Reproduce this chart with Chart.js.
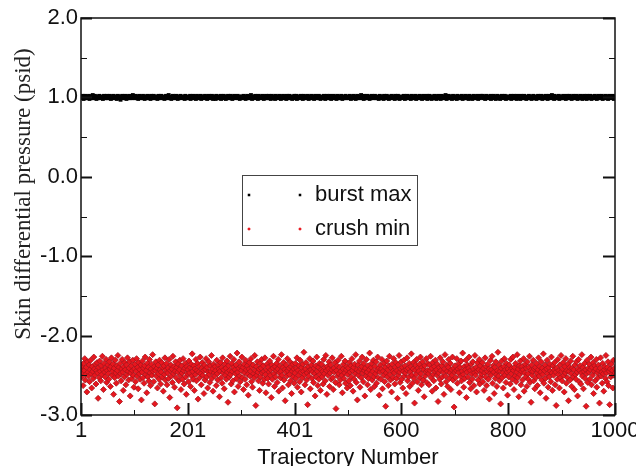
<!DOCTYPE html>
<html>
<head>
<meta charset="UTF-8">
<title>Skin differential pressure</title>
<script src="https://cdn.jsdelivr.net/npm/chart.js"></script>
<style>
body {margin:0; background:#fff;}
#wrap {width:636px; height:466px;}
</style>
</head>
<body>
<div id="wrap"><canvas id="myChart" width="636" height="466"></canvas></div>
<script>
// axis ticks as shown on the picture
const xTicks = [1, 101, 201, 301, 401, 500, 600, 700, 800, 900, 1000];
const xTickLabels = ['1', '', '201', '', '401', '', '600', '', '800', '', '1000'];
const yTicks = [-3, -2, -1, 0, 1, 2];
const yMinorTicks = [-2.5, -1.5, -0.5, 0.5, 1.5];

const seriesNames = ['burst max', 'crush min'];

// burst max, one value per trajectory (1..1000)
const burstMax = [
1.00,1.01,0.99,1.02,1.00,0.98,1.01,1.00,1.02,0.99,1.00,1.01,1.01,0.99,1.00,1.02,0.98,1.01,1.00,1.00,0.99,1.01,1.03,1.00,0.99,1.00,1.02,1.01,0.99,0.98,1.00,1.01,1.00,0.99,1.02,1.00,1.01,0.99,1.00,1.01,1.00,0.98,1.01,1.02,1.00,0.99,1.01,1.00,1.02,0.99,
1.01,0.99,1.00,1.00,1.02,0.99,0.98,1.01,1.00,1.01,0.99,1.02,1.00,1.00,0.99,1.01,1.01,0.98,1.00,1.02,1.00,0.99,1.01,1.00,0.97,1.01,1.00,1.02,0.99,1.00,1.01,0.99,1.00,1.02,1.00,0.98,1.01,1.00,0.99,1.01,1.02,1.00,0.99,1.00,1.01,0.99,1.00,1.03,1.00,1.01,
0.99,1.00,1.02,1.00,0.99,1.01,1.00,0.98,1.01,1.02,1.00,0.99,1.00,1.01,1.00,0.99,1.02,1.00,1.01,0.98,1.00,1.01,0.99,1.00,1.02,1.01,0.99,1.00,1.00,1.01,0.98,1.02,1.00,0.99,1.01,1.00,1.02,0.99,1.00,1.01,0.99,1.00,1.01,0.98,1.00,1.02,1.01,0.99,1.00,1.00,
1.02,1.00,0.99,1.01,1.00,1.00,0.98,1.01,0.99,1.02,1.00,1.01,0.99,1.00,1.03,1.00,0.99,1.01,1.00,0.98,1.01,1.00,1.02,0.99,1.00,1.01,1.00,0.99,1.02,1.00,1.01,0.98,1.00,1.01,0.99,1.00,1.02,1.00,0.99,1.01,1.00,1.01,0.99,1.00,0.98,1.02,1.00,1.01,0.99,1.00,
1.00,0.99,1.01,1.00,1.02,0.98,1.00,1.01,0.99,1.00,1.02,1.00,0.99,1.01,1.00,0.98,1.01,1.02,1.00,0.99,1.00,1.01,1.00,0.99,1.02,0.98,1.01,1.00,1.00,1.01,0.99,1.00,1.02,1.01,0.99,1.00,0.98,1.01,1.00,1.02,0.99,1.00,1.01,1.00,0.99,1.02,1.00,0.98,1.01,1.00,
1.01,1.00,0.98,1.02,1.00,0.99,1.01,1.00,1.01,0.99,1.00,1.02,0.98,1.00,1.01,0.99,1.00,1.02,1.00,1.01,0.99,0.98,1.01,1.00,1.00,1.02,0.99,1.01,1.00,0.99,1.02,1.00,1.01,0.98,1.00,0.99,1.01,1.02,1.00,0.99,1.00,1.01,1.00,1.02,0.99,1.00,1.01,0.98,1.00,1.01,
0.99,1.01,1.00,1.00,1.02,0.99,1.00,1.01,0.98,1.00,1.01,1.02,1.00,0.99,1.00,1.01,0.99,1.00,1.03,1.00,0.98,1.01,1.00,0.99,1.01,1.00,1.02,0.99,1.00,1.01,1.00,0.98,1.02,1.00,0.99,1.01,1.00,1.00,0.99,1.02,1.01,1.00,0.98,1.00,1.01,0.99,1.02,1.00,1.00,0.99,
1.00,1.02,0.99,1.00,1.01,0.98,1.00,1.02,1.00,0.99,1.01,1.00,1.00,0.98,1.02,1.01,0.99,1.00,1.01,1.00,0.99,1.02,1.00,1.01,0.98,1.00,0.99,1.01,1.02,1.00,1.00,0.99,1.01,1.00,0.98,1.02,1.00,0.99,1.01,1.00,1.02,0.99,1.00,1.01,1.00,0.98,1.00,1.01,0.99,1.02,
1.01,0.99,1.00,1.02,0.98,1.00,1.01,1.00,0.99,1.01,1.00,1.02,0.99,1.00,1.01,0.98,1.00,1.02,1.01,0.99,1.00,1.00,1.01,0.99,1.02,1.00,0.98,1.01,1.00,0.99,1.01,1.02,1.00,0.99,1.00,1.01,0.98,1.00,1.02,1.00,0.99,1.01,1.00,1.00,0.99,1.02,1.01,1.00,0.98,1.00,
1.00,1.01,0.99,1.00,1.02,1.00,0.99,0.98,1.01,1.00,1.02,0.99,1.01,1.00,1.00,0.99,1.02,1.00,0.98,1.01,1.00,1.01,0.99,1.02,1.00,1.00,0.99,1.01,0.98,1.00,1.02,1.01,0.99,1.00,1.01,1.00,0.99,1.02,1.00,0.98,1.01,1.00,1.00,0.99,1.01,1.02,1.00,0.99,1.01,1.00,
0.99,1.00,1.01,1.02,1.00,0.98,1.00,1.01,0.99,1.00,1.02,1.01,1.00,0.99,0.98,1.01,1.00,1.02,0.99,1.00,1.01,1.00,0.99,1.01,1.03,1.00,0.99,1.00,1.01,0.98,1.02,1.00,0.99,1.01,1.00,1.00,1.02,0.99,1.01,1.00,0.98,1.00,1.01,0.99,1.02,1.00,1.00,1.01,0.99,1.00,
1.02,0.99,1.00,1.01,1.00,0.99,1.01,0.98,1.00,1.02,1.00,1.01,0.99,1.00,1.01,1.00,0.98,1.02,1.00,0.99,1.01,1.00,1.02,0.99,1.00,1.01,0.98,1.00,1.01,1.00,0.99,1.02,1.01,1.00,0.99,1.00,1.01,0.98,1.02,1.00,0.99,1.01,1.00,1.02,1.00,0.99,0.98,1.01,1.00,1.01,
1.00,1.00,0.99,1.01,1.02,1.00,0.98,1.01,1.00,0.99,1.02,1.00,1.01,0.99,1.00,1.01,1.00,0.98,1.02,1.01,0.99,1.00,1.00,1.01,0.99,1.02,1.00,0.98,1.01,1.00,1.01,0.99,1.00,1.02,1.00,0.99,1.01,1.00,0.98,1.01,1.02,1.00,0.99,1.00,1.01,1.00,0.99,1.02,0.98,1.01,
1.01,1.00,1.02,0.99,1.00,1.01,0.98,1.00,1.01,1.00,0.99,1.02,1.00,1.01,0.99,0.98,1.00,1.01,1.02,1.00,0.99,1.01,1.00,0.98,1.00,1.02,1.01,0.99,1.00,1.00,1.01,0.99,1.03,1.00,0.98,1.01,1.00,0.99,1.02,1.00,1.01,1.00,0.99,1.01,0.98,1.00,1.02,1.00,0.99,1.01,
0.99,1.01,1.00,0.98,1.02,1.00,1.01,0.99,1.00,1.01,1.00,0.99,1.02,1.00,0.98,1.01,1.00,1.01,0.99,1.02,1.00,1.00,0.99,1.01,1.00,0.98,1.02,1.01,1.00,0.99,1.00,1.01,0.98,1.00,1.02,0.99,1.01,1.00,1.00,0.99,1.01,1.02,1.00,0.98,1.00,1.01,0.99,1.00,1.02,1.00,
1.00,1.02,1.00,0.99,1.01,1.00,0.98,1.01,1.02,0.99,1.00,1.01,1.00,0.99,1.01,1.00,1.02,0.98,1.00,1.01,0.99,1.00,1.02,1.00,1.01,0.99,0.98,1.01,1.00,1.02,1.00,0.99,1.01,1.00,0.98,1.00,1.01,1.02,0.99,1.00,1.00,1.01,0.99,1.02,1.00,0.98,1.01,1.00,0.99,1.01,
1.01,0.99,1.00,1.00,1.02,0.98,1.01,1.00,0.99,1.01,1.02,1.00,0.99,1.00,1.01,0.98,1.02,1.00,1.00,0.99,1.01,1.00,0.98,1.02,1.01,1.00,0.99,1.00,1.01,1.02,0.99,1.00,1.01,0.98,1.00,1.01,1.00,0.99,1.02,1.00,1.01,0.99,1.00,0.98,1.01,1.00,1.02,0.99,1.00,1.01,
1.00,1.01,0.98,1.00,1.01,1.02,0.99,1.00,1.00,1.01,0.99,1.02,1.00,0.98,1.01,1.00,0.99,1.01,1.00,1.02,0.99,1.00,1.01,0.98,1.00,1.02,1.00,0.99,1.01,1.00,1.00,1.03,0.99,1.01,1.00,0.98,1.02,1.00,0.99,1.01,1.00,1.01,0.99,1.00,1.02,0.98,1.00,1.01,1.00,0.99,
0.99,1.00,1.02,1.01,0.99,1.00,1.01,0.98,1.00,1.02,1.00,0.99,1.01,1.00,1.02,0.99,1.00,1.01,0.98,1.00,1.01,1.02,1.00,0.99,1.00,1.01,0.99,1.02,1.00,0.98,1.01,1.00,1.00,0.99,1.02,1.01,1.00,0.99,0.98,1.01,1.00,1.02,0.99,1.00,1.01,1.00,0.98,1.02,1.00,1.01,
1.01,1.00,0.99,1.02,1.00,0.98,1.01,1.00,1.01,0.99,1.00,1.02,0.99,1.01,1.00,0.98,1.00,1.01,1.02,0.99,1.00,1.01,1.00,0.99,1.02,1.00,0.98,1.01,1.00,1.00,0.99,1.02,1.01,0.99,1.00,1.01,0.98,1.00,1.02,1.00,0.99,1.01,1.00,1.01,0.99,1.02,1.00,0.98,1.01,1.00
];

// crush min, one value per trajectory (1..1000)
const crushMin = [
-2.41,-2.52,-2.38,-2.47,-2.63,-2.35,-2.44,-2.29,-2.56,-2.49,-2.40,-2.71,-2.33,-2.46,-2.51,-2.37,-2.58,-2.43,-2.31,-2.48,-2.66,-2.39,-2.45,-2.54,-2.27,-2.42,-2.50,-2.36,-2.61,-2.44,-2.34,-2.47,-2.79,-2.40,-2.53,-2.32,-2.45,-2.57,-2.38,-2.49,-2.26,-2.43,-2.68,-2.35,-2.46,-2.52,-2.41,-2.30,-2.59,-2.44,
-2.37,-2.48,-2.55,-2.33,-2.42,-2.64,-2.39,-2.28,-2.50,-2.45,-2.36,-2.74,-2.41,-2.53,-2.31,-2.47,-2.60,-2.38,-2.44,-2.25,-2.51,-2.40,-2.83,-2.35,-2.48,-2.57,-2.42,-2.30,-2.46,-2.69,-2.39,-2.52,-2.34,-2.43,-2.62,-2.37,-2.49,-2.28,-2.45,-2.56,-2.41,-2.33,-2.76,-2.47,-2.38,-2.54,-2.44,-2.31,-2.50,-2.65,
-2.42,-2.36,-2.58,-2.45,-2.29,-2.51,-2.40,-2.67,-2.34,-2.48,-2.43,-2.55,-2.37,-2.81,-2.46,-2.32,-2.53,-2.41,-2.60,-2.38,-2.27,-2.49,-2.44,-2.72,-2.35,-2.52,-2.40,-2.57,-2.30,-2.47,-2.63,-2.42,-2.36,-2.50,-2.24,-2.45,-2.58,-2.39,-2.86,-2.44,-2.33,-2.51,-2.41,-2.66,-2.37,-2.48,-2.55,-2.31,-2.43,-2.61,
-2.46,-2.34,-2.52,-2.40,-2.70,-2.38,-2.49,-2.28,-2.56,-2.43,-2.35,-2.62,-2.47,-2.41,-2.54,-2.30,-2.78,-2.44,-2.37,-2.51,-2.42,-2.59,-2.26,-2.48,-2.39,-2.65,-2.45,-2.33,-2.53,-2.40,-2.91,-2.46,-2.36,-2.57,-2.43,-2.31,-2.50,-2.68,-2.38,-2.47,-2.55,-2.29,-2.44,-2.61,-2.41,-2.35,-2.52,-2.74,-2.39,-2.48,
-2.43,-2.58,-2.32,-2.47,-2.40,-2.64,-2.36,-2.51,-2.23,-2.45,-2.55,-2.38,-2.69,-2.42,-2.49,-2.30,-2.57,-2.44,-2.35,-2.80,-2.46,-2.39,-2.53,-2.27,-2.48,-2.62,-2.41,-2.34,-2.50,-2.44,-2.73,-2.37,-2.56,-2.43,-2.29,-2.52,-2.40,-2.66,-2.46,-2.33,-2.49,-2.59,-2.38,-2.45,-2.25,-2.54,-2.42,-2.70,-2.36,-2.47,
-2.51,-2.39,-2.44,-2.63,-2.31,-2.48,-2.56,-2.37,-2.42,-2.77,-2.45,-2.34,-2.53,-2.40,-2.60,-2.28,-2.47,-2.43,-2.67,-2.36,-2.50,-2.41,-2.55,-2.32,-2.46,-2.84,-2.38,-2.52,-2.44,-2.26,-2.49,-2.61,-2.35,-2.45,-2.57,-2.40,-2.30,-2.71,-2.43,-2.48,-2.37,-2.54,-2.22,-2.46,-2.64,-2.41,-2.33,-2.51,-2.58,-2.39,
-2.44,-2.27,-2.53,-2.40,-2.68,-2.36,-2.47,-2.55,-2.31,-2.43,-2.62,-2.38,-2.49,-2.75,-2.42,-2.34,-2.51,-2.45,-2.29,-2.58,-2.40,-2.65,-2.37,-2.48,-2.53,-2.25,-2.44,-2.88,-2.39,-2.50,-2.33,-2.46,-2.57,-2.42,-2.69,-2.35,-2.52,-2.41,-2.30,-2.47,-2.60,-2.38,-2.45,-2.55,-2.28,-2.49,-2.72,-2.43,-2.36,-2.54,
-2.40,-2.61,-2.46,-2.32,-2.50,-2.43,-2.78,-2.37,-2.55,-2.41,-2.26,-2.48,-2.64,-2.39,-2.52,-2.44,-2.35,-2.59,-2.42,-2.30,-2.70,-2.47,-2.38,-2.53,-2.45,-2.24,-2.50,-2.66,-2.40,-2.34,-2.56,-2.43,-2.82,-2.46,-2.37,-2.51,-2.29,-2.44,-2.62,-2.41,-2.49,-2.33,-2.57,-2.39,-2.73,-2.45,-2.36,-2.52,-2.42,-2.60,
-2.47,-2.35,-2.54,-2.41,-2.28,-2.65,-2.44,-2.50,-2.38,-2.58,-2.31,-2.46,-2.71,-2.40,-2.53,-2.36,-2.45,-2.21,-2.49,-2.62,-2.42,-2.34,-2.56,-2.47,-2.87,-2.39,-2.51,-2.44,-2.29,-2.67,-2.43,-2.37,-2.54,-2.46,-2.32,-2.59,-2.41,-2.48,-2.76,-2.38,-2.52,-2.27,-2.45,-2.63,-2.40,-2.55,-2.35,-2.49,-2.69,-2.43,
-2.36,-2.52,-2.45,-2.61,-2.30,-2.48,-2.40,-2.57,-2.25,-2.44,-2.74,-2.39,-2.50,-2.42,-2.33,-2.64,-2.47,-2.37,-2.55,-2.43,-2.28,-2.53,-2.68,-2.41,-2.46,-2.34,-2.59,-2.92,-2.44,-2.38,-2.51,-2.31,-2.48,-2.62,-2.40,-2.56,-2.45,-2.26,-2.50,-2.72,-2.42,-2.36,-2.54,-2.47,-2.32,-2.60,-2.43,-2.39,-2.66,-2.49,
-2.41,-2.57,-2.34,-2.46,-2.63,-2.38,-2.52,-2.29,-2.44,-2.70,-2.40,-2.55,-2.36,-2.48,-2.24,-2.59,-2.43,-2.81,-2.37,-2.50,-2.45,-2.32,-2.65,-2.42,-2.53,-2.39,-2.27,-2.47,-2.58,-2.35,-2.44,-2.76,-2.41,-2.51,-2.30,-2.46,-2.62,-2.38,-2.54,-2.43,-2.22,-2.49,-2.68,-2.40,-2.35,-2.56,-2.45,-2.31,-2.52,-2.64,
-2.39,-2.48,-2.33,-2.60,-2.44,-2.27,-2.53,-2.41,-2.75,-2.46,-2.37,-2.55,-2.42,-2.30,-2.67,-2.45,-2.50,-2.35,-2.58,-2.40,-2.89,-2.47,-2.32,-2.52,-2.43,-2.63,-2.38,-2.26,-2.49,-2.56,-2.41,-2.71,-2.36,-2.45,-2.53,-2.29,-2.47,-2.61,-2.40,-2.34,-2.54,-2.44,-2.79,-2.37,-2.50,-2.25,-2.46,-2.59,-2.42,-2.33,
-2.55,-2.40,-2.66,-2.45,-2.31,-2.51,-2.38,-2.47,-2.73,-2.43,-2.28,-2.57,-2.41,-2.52,-2.35,-2.64,-2.46,-2.39,-2.23,-2.50,-2.60,-2.42,-2.34,-2.54,-2.85,-2.44,-2.37,-2.49,-2.30,-2.58,-2.41,-2.69,-2.45,-2.36,-2.53,-2.27,-2.48,-2.62,-2.40,-2.33,-2.56,-2.43,-2.77,-2.38,-2.51,-2.46,-2.29,-2.59,-2.44,-2.35,
-2.48,-2.62,-2.37,-2.44,-2.26,-2.53,-2.41,-2.70,-2.34,-2.49,-2.57,-2.39,-2.45,-2.31,-2.66,-2.43,-2.50,-2.36,-2.83,-2.47,-2.40,-2.55,-2.28,-2.44,-2.61,-2.38,-2.52,-2.33,-2.46,-2.74,-2.42,-2.24,-2.51,-2.58,-2.37,-2.45,-2.64,-2.40,-2.30,-2.54,-2.47,-2.35,-2.68,-2.43,-2.50,-2.27,-2.56,-2.41,-2.90,-2.46,
-2.38,-2.53,-2.44,-2.29,-2.60,-2.42,-2.47,-2.35,-2.72,-2.40,-2.51,-2.32,-2.57,-2.45,-2.22,-2.49,-2.65,-2.39,-2.54,-2.43,-2.31,-2.78,-2.46,-2.37,-2.52,-2.41,-2.27,-2.59,-2.44,-2.67,-2.36,-2.48,-2.55,-2.33,-2.42,-2.63,-2.47,-2.25,-2.50,-2.40,-2.71,-2.45,-2.34,-2.56,-2.43,-2.30,-2.61,-2.38,-2.52,-2.48,
-2.44,-2.34,-2.58,-2.41,-2.69,-2.47,-2.28,-2.52,-2.39,-2.63,-2.45,-2.36,-2.55,-2.42,-2.80,-2.48,-2.31,-2.50,-2.43,-2.26,-2.60,-2.38,-2.46,-2.73,-2.40,-2.54,-2.33,-2.49,-2.64,-2.44,-2.21,-2.51,-2.37,-2.57,-2.45,-2.86,-2.41,-2.32,-2.53,-2.47,-2.66,-2.39,-2.29,-2.50,-2.43,-2.59,-2.35,-2.46,-2.75,-2.42,
-2.52,-2.37,-2.45,-2.61,-2.30,-2.48,-2.41,-2.55,-2.27,-2.44,-2.68,-2.40,-2.51,-2.35,-2.58,-2.46,-2.24,-2.53,-2.42,-2.77,-2.38,-2.49,-2.32,-2.62,-2.45,-2.39,-2.56,-2.43,-2.29,-2.70,-2.47,-2.36,-2.52,-2.41,-2.64,-2.33,-2.48,-2.55,-2.40,-2.26,-2.59,-2.44,-2.84,-2.37,-2.50,-2.45,-2.31,-2.57,-2.42,-2.67,
-2.40,-2.53,-2.35,-2.47,-2.63,-2.43,-2.28,-2.51,-2.39,-2.72,-2.46,-2.33,-2.56,-2.41,-2.49,-2.23,-2.60,-2.44,-2.37,-2.54,-2.79,-2.42,-2.31,-2.48,-2.65,-2.40,-2.52,-2.36,-2.45,-2.58,-2.27,-2.47,-2.69,-2.38,-2.50,-2.43,-2.34,-2.62,-2.46,-2.88,-2.41,-2.55,-2.30,-2.49,-2.44,-2.66,-2.37,-2.53,-2.25,-2.45,
-2.57,-2.42,-2.34,-2.50,-2.71,-2.39,-2.47,-2.29,-2.60,-2.44,-2.53,-2.36,-2.82,-2.45,-2.40,-2.56,-2.32,-2.48,-2.64,-2.41,-2.26,-2.52,-2.43,-2.68,-2.37,-2.49,-2.55,-2.33,-2.46,-2.76,-2.42,-2.30,-2.58,-2.44,-2.38,-2.61,-2.47,-2.24,-2.51,-2.40,-2.67,-2.45,-2.35,-2.54,-2.43,-2.89,-2.48,-2.31,-2.59,-2.41,
-2.46,-2.36,-2.55,-2.43,-2.27,-2.62,-2.40,-2.50,-2.34,-2.73,-2.45,-2.38,-2.57,-2.42,-2.30,-2.65,-2.47,-2.53,-2.37,-2.44,-2.85,-2.41,-2.28,-2.51,-2.46,-2.60,-2.35,-2.48,-2.70,-2.43,-2.39,-2.54,-2.25,-2.47,-2.58,-2.40,-2.33,-2.63,-2.45,-2.87,-2.42,-2.52,-2.36,-2.49,-2.44,-2.66,-2.31,-2.50,-2.41,-2.47
];

const labelFont = {family: '"Liberation Sans", Arial, sans-serif', size: 22};

// inward tick marks, frame, rotated y title and boxed legend
const frame = {
  id: 'frame',
  afterDraw(chart) {
    const {ctx, chartArea: a, scales: {x, y}} = chart;
    ctx.save();
    ctx.strokeStyle = '#111';
    ctx.lineWidth = 1.5;
    ctx.strokeRect(a.left, a.top, a.right - a.left, a.bottom - a.top);

    xTicks.forEach((v, i) => {
      const px = Math.round(x.getPixelForValue(v)) + 0.5;
      const len = xTickLabels[i] ? 12 : 5;
      ctx.lineWidth = xTickLabels[i] ? 2 : 1;
      ctx.beginPath();
      ctx.moveTo(px, a.bottom);
      ctx.lineTo(px, a.bottom - len);
      ctx.stroke();
    });
    yTicks.concat(yMinorTicks).forEach(v => {
      const py = Math.round(y.getPixelForValue(v)) + 0.5;
      const major = yTicks.includes(v);
      ctx.lineWidth = major ? 2 : 1;
      ctx.beginPath();
      ctx.moveTo(a.left, py);
      ctx.lineTo(a.left + (major ? 11 : 6), py);
      ctx.moveTo(a.right, py);
      ctx.lineTo(a.right - (major ? 12 : 6), py);
      ctx.stroke();
    });

    // y axis title (serif, sits a bit above the middle)
    ctx.fillStyle = '#222';
    ctx.font = '23px "Liberation Serif", "Times New Roman", serif';
    ctx.textAlign = 'center';
    ctx.textBaseline = 'middle';
    ctx.translate(24, 194);
    ctx.rotate(-Math.PI / 2);
    ctx.fillText('Skin differential pressure (psid)', 0, 0);
    ctx.restore();

    // legend box
    ctx.save();
    ctx.strokeStyle = '#444';
    ctx.lineWidth = 1;
    ctx.strokeRect(242.5, 175.5, 175, 70);
    ctx.font = '22px "Liberation Sans", Arial, sans-serif';
    ctx.textBaseline = 'middle';
    ctx.textAlign = 'left';
    const rows = [195, 229];
    chart.data.datasets.forEach((ds, i) => {
      const opts = {pointStyle: ds.pointStyle, radius: 1.8, rotation: 0, borderWidth: 0};
      ctx.fillStyle = ds.backgroundColor;
      ctx.strokeStyle = ds.backgroundColor;
      Chart.helpers.drawPoint(ctx, opts, 249, rows[i]);
      Chart.helpers.drawPoint(ctx, opts, 300, rows[i]);
      ctx.fillStyle = '#111';
      ctx.fillText(ds.label, 315, rows[i]);
    });
    ctx.restore();
  }
};

new Chart(document.getElementById('myChart'), {
  type: 'scatter',
  data: {
    datasets: [{
      label: seriesNames[0],
      data: burstMax.map((v, i) => ({x: i + 1, y: v})),
      pointStyle: 'rect',
      pointRadius: 2.7,
      backgroundColor: '#000',
      borderColor: '#000',
      borderWidth: 0
    }, {
      label: seriesNames[1],
      data: crushMin.map((v, i) => ({x: i + 1, y: v})),
      pointStyle: 'rectRot',
      pointRadius: 3,
      backgroundColor: '#e8161e',
      borderColor: '#a5141c',
      borderWidth: 0.8
    }]
  },
  options: {
    responsive: false,
    animation: false,
    layout: {padding: {top: 18, right: 21, left: 0, bottom: 0}},
    plugins: {legend: {display: false}, tooltip: {enabled: false}},
    scales: {
      x: {
        type: 'linear',
        min: 1,
        max: 1000,
        afterBuildTicks: s => { s.ticks = xTicks.map(v => ({value: v})); },
        afterFit: s => { s.height = 51; s.paddingLeft = 0; s.paddingRight = 0; },
        ticks: {
          autoSkip: false,
          maxRotation: 0,
          padding: 3,
          color: '#111',
          font: labelFont,
          callback: (v, i) => xTickLabels[i]
        },
        grid: {display: false, drawTicks: false},
        border: {display: false},
        title: {display: true, text: 'Trajectory Number', color: '#111', font: labelFont, padding: {top: 0, bottom: -5}}
      },
      y: {
        min: -3,
        max: 2,
        afterBuildTicks: s => { s.ticks = yTicks.map(v => ({value: v})); },
        afterFit: s => { s.width = 81; s.paddingTop = 0; s.paddingBottom = 0; },
        ticks: {
          padding: 3,
          color: '#111',
          font: labelFont,
          callback: v => v.toFixed(1)
        },
        grid: {display: false, drawTicks: false},
        border: {display: false}
      }
    }
  },
  plugins: [frame]
});
</script>
</body>
</html>
